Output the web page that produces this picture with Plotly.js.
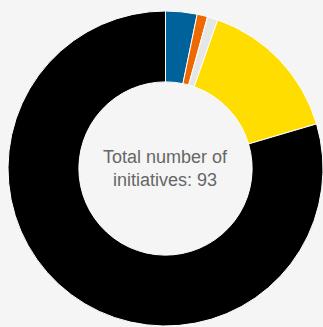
<!DOCTYPE html>
<html>
<head>
<meta charset="utf-8">
<script src="https://cdn.plot.ly/plotly-3.0.1.min.js"></script>
<style>html,body{margin:0;padding:0;background:#f5f5f5;}</style>
</head>
<body>
<div id="chart" style="width:323px;height:327px;"></div>
<script>
const categories = ["Blue", "Orange", "Gray", "Yellow", "Black"];
const values = [3, 1, 1, 14, 74];
const colors = ["#00629b", "#ee6a00", "#e6e6e6", "#ffdd00", "#000000"];
const total = 93;

Plotly.newPlot("chart", [{
  type: "pie",
  labels: categories,
  values: values,
  hole: 0.55,
  sort: false,
  direction: "clockwise",
  rotation: 0,
  textinfo: "none",
  hoverinfo: "none",
  marker: {colors: colors, line: {color: "#ffffff", width: 1}},
  showlegend: false
}], {
  width: 323, height: 327,
  margin: {l: 8, r: 0, t: 10, b: 0},
  paper_bgcolor: "#f5f5f5",
  plot_bgcolor: "#f5f5f5",
  annotations: [{
    text: "Total number of<br>initiatives: " + total,
    showarrow: false,
    x: 0.5, y: 0.5, xref: "paper", yref: "paper",
    font: {family: "Liberation Sans, Arial, sans-serif", size: 18, color: "#666666"}
  }]
}, {displayModeBar: false, staticPlot: true});
</script>
</body>
</html>
